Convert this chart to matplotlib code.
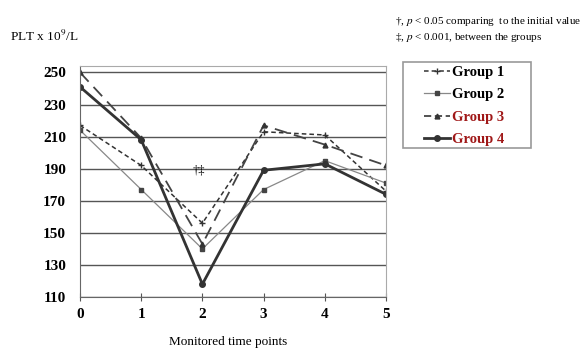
import numpy as np
import matplotlib
matplotlib.use('Agg')
from matplotlib import pyplot as plt
from matplotlib.lines import Line2D
from matplotlib.patches import Rectangle

plt.rcParams['font.family'] = ['Liberation Serif', 'DejaVu Serif']
plt.rcParams['mathtext.fontset'] = 'stix'

# time points and group values (PLT x 10^9/L)
timepoints = [0, 1, 2, 3, 4, 5]
group1 = [217, 192, 156, 213, 211, 176]
group2 = [214, 177, 140, 177, 195, 181]
group3 = [250, 209, 143, 217, 205, 192]
group4 = [241, 208, 118, 189, 193, 174]
yticks = [110, 130, 150, 170, 190, 210, 230, 250]
labels = ['Group 1', 'Group 2', 'Group 3', 'Group 4']
labelcolors = ['black', 'black', '#a01818', '#a01818']

fig = plt.figure(figsize=(5.87, 3.52), dpi=100)
ax = fig.add_axes([80/587, 1-297/352, 306/587, (297-66)/352])

ax.plot(timepoints, group1, color='#333333', lw=1.1, ls=(0, (3, 2)), marker='+', ms=4, mew=1.0)
ax.plot(timepoints, group2, color='#888888', lw=0.9, ls='-', marker='s', ms=3.5, mfc='#444444', mec='#444444')
ax.plot(timepoints, group3, color='#444444', lw=1.3, ls=(0, (7, 4)), marker='^', ms=3.5, mfc='#333333', mec='#333333')
ax.plot(timepoints, group4, color='#333333', lw=2.0, ls='-', marker='o', ms=4, mfc='#333333', mec='#333333')

ax.set_xlim(0, 5)
ax.set_ylim(110, 254)
ax.set_yticks(yticks)
ax.set_xticks(timepoints)
ax.yaxis.grid(True, color='#555555', lw=1.0)
ax.set_axisbelow(True)
for lab in ax.get_xticklabels() + ax.get_yticklabels():
    lab.set_fontweight('bold')
    lab.set_fontsize(11)
ax.tick_params(axis='x', direction='inout', length=6, color='#555555', pad=5)
ax.tick_params(axis='y', direction='in', length=0, pad=10)
ax.spines['top'].set_color('#aaaaaa')
ax.spines['right'].set_color('#aaaaaa')
ax.spines['left'].set_color('#666666')
ax.spines['bottom'].set_color('#666666')

ax.text(1.95, 189, '\u2020\u2021', fontsize=9, ha='center', va='center')

fig.text(228/587, 1-342/352, 'Monitored time points', fontsize=9.5, ha='center', va='center')
fig.text(10/587, 1-36/352, 'PLT x 10$^{9}$/L', fontsize=9.5, ha='left', va='center')
fig.text(395/587, 1-22/352, '\u2020, $p$ < 0.05 comparing  to the initial value', fontsize=8, ha='left', va='center')
fig.text(395/587, 1-37/352, '\u2021, $p$ < 0.001, between the groups', fontsize=8, ha='left', va='center')

# legend frame drawn separately so the box can be wider than its contents
fig.patches.append(Rectangle((403/587, 1-148/352), 128/587, 86/352, transform=fig.transFigure,
                             fill=False, edgecolor='#999999', lw=1.2))

handles = [
    Line2D([], [], color='#333333', lw=1.1, ls=(0, (3, 2)), marker='+', ms=4, mew=1.0),
    Line2D([], [], color='#888888', lw=0.9, marker='s', ms=3.5, mfc='#444444', mec='#444444'),
    Line2D([], [], color='#444444', lw=1.3, ls=(0, (4, 2)), marker='^', ms=3.5, mfc='#333333', mec='#333333'),
    Line2D([], [], color='#333333', lw=2.0, marker='o', ms=4, mfc='#333333', mec='#333333'),
]
leg = fig.legend(handles, labels, loc='upper left', bbox_to_anchor=(424/587, 1-66/352),
                 frameon=False, handlelength=1.75, handletextpad=0.15,
                 labelspacing=0.62, borderpad=0, borderaxespad=0, prop={'weight': 'bold', 'size': 10.5})
for t, c in zip(leg.get_texts(), labelcolors):
    t.set_color(c)

plt.savefig('out.png', dpi=100)
